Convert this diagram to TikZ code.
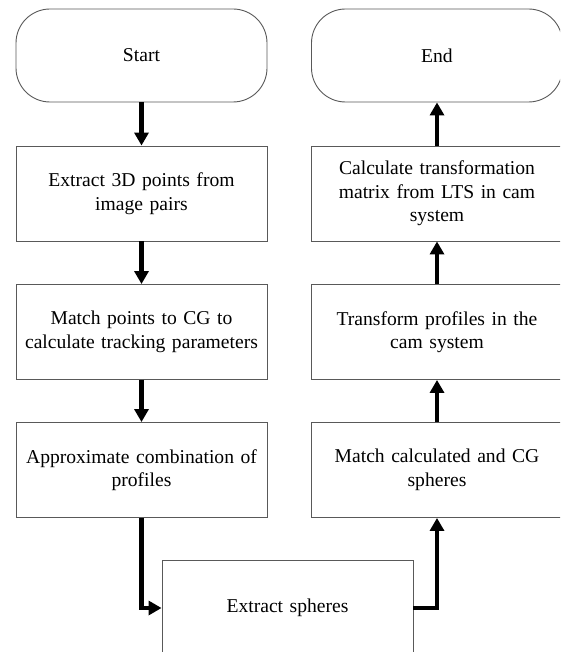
\documentclass[tikz,border=0pt]{standalone}
\usepackage{fontspec}
\setmainfont{Liberation Serif}
\usetikzlibrary{arrows.meta}
\tikzset{
  base/.style={draw=black!65, line width=0.9pt, fill=white, align=center, text width=245pt,
    font=\fontsize{19.6}{23.5}\selectfont, inner sep=0pt},
  term/.style={base, rounded corners=34pt, minimum width=251pt, minimum height=93pt},
  procbox/.style={base, rectangle, minimum width=251pt, minimum height=95pt},
  arr/.style={line width=4.8pt, -{Triangle[length=13pt,width=14pt]}},
}
\begin{document}
\begin{tikzpicture}[x=1pt,y=-1pt]
\useasboundingbox (0,0) rectangle (560,652);
\clip (0,0) rectangle (560,652);
\node[term] (start) at (141.5,55.5) {Start};
\node[term] (end) at (437,55.5) {End};
\node[procbox] (l1) at (141.5,193.5) {Extract 3D points from\\image pairs};
\node[procbox] (l2) at (141.5,332) {Match points to CG to\\calculate tracking parameters};
\node[procbox] (l3) at (141.5,470) {Approximate combination of\\profiles};
\node[procbox] (r1) at (437,193.5) {Calculate transformation\\matrix from LTS in cam\\system};
\node[procbox] (r2) at (437,332) {Transform profiles in the\\cam system};
\node[procbox] (r3) at (437,470) {Match calculated and CG\\spheres};
\node[procbox, minimum height=96pt] (ex) at (287.5,608) {Extract spheres};
\draw[arr] (start) -- (l1);
\draw[arr] (l1) -- (l2);
\draw[arr] (l2) -- (l3);
\draw[arr] (l3.south) |- (ex.west);
\draw[arr] (ex.east) -| (r3.south);
\draw[arr] (r3) -- (r2);
\draw[arr] (r2) -- (r1);
\draw[arr] (r1) -- (end);
\end{tikzpicture}
\end{document}
